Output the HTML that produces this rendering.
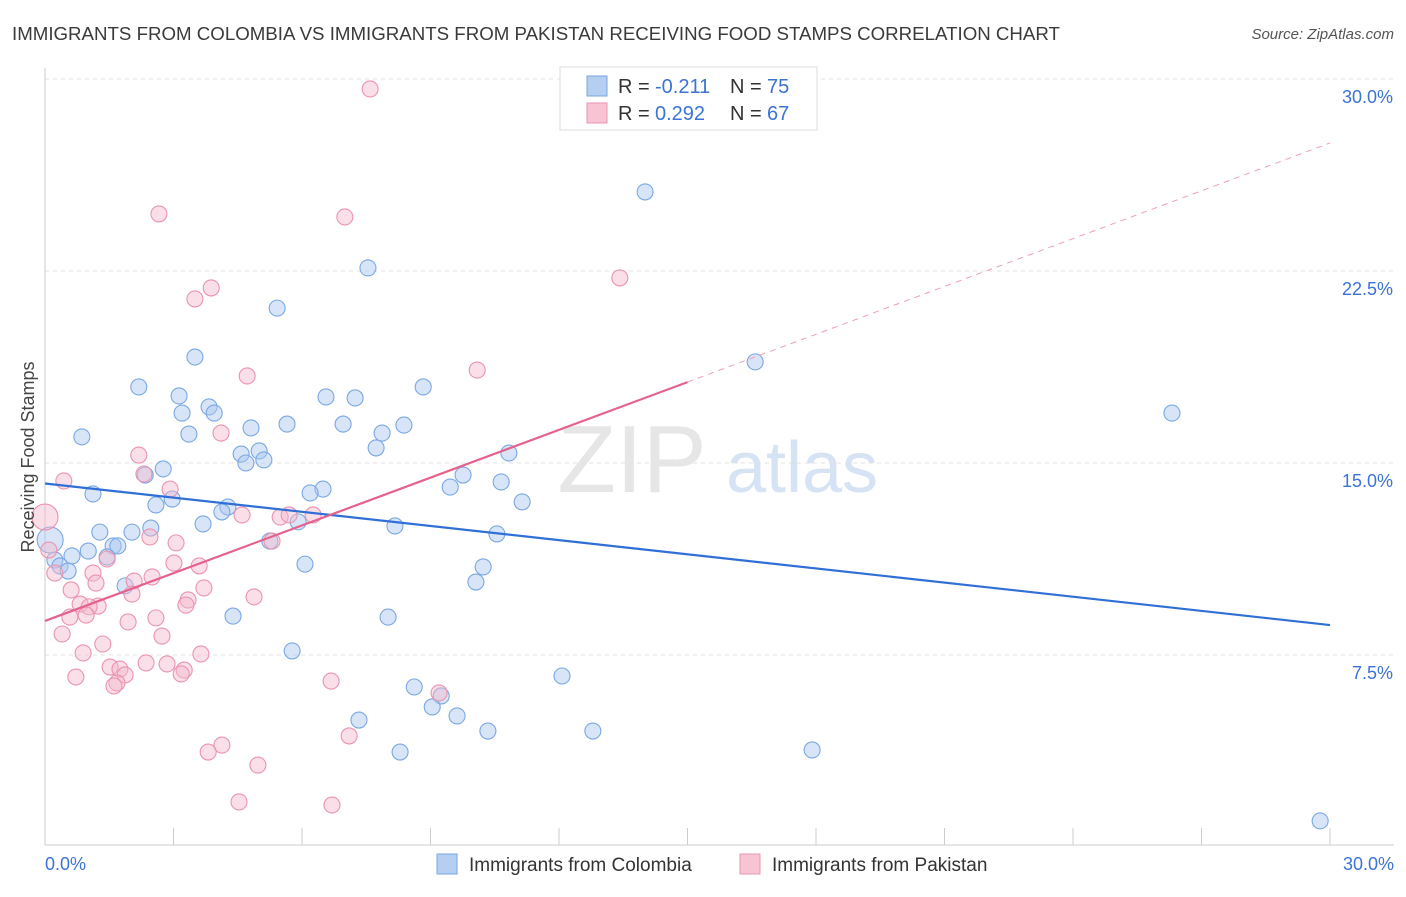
<!DOCTYPE html>
<html><head><meta charset="utf-8"><style>
body{margin:0;background:#fff;font-family:"Liberation Sans",sans-serif;}
svg text{font-family:"Liberation Sans",sans-serif;}
</style></head><body>
<svg id="chart" width="1406" height="892" viewBox="0 0 1406 892" xmlns="http://www.w3.org/2000/svg">
<text x="12" y="40" font-size="18.7" fill="#3a3a3a">IMMIGRANTS FROM COLOMBIA VS IMMIGRANTS FROM PAKISTAN RECEIVING FOOD STAMPS CORRELATION CHART</text>
<text x="1394" y="39" font-size="15" fill="#555" text-anchor="end" font-style="italic">Source: ZipAtlas.com</text>
<g><text x="632" y="492" font-size="96" fill="#e6e6e6" text-anchor="middle" font-family="Liberation Serif">ZIP</text><text x="802" y="492" font-size="72" fill="#d6e3f4" text-anchor="middle">atlas</text></g>
<g id="grid"></g>
<g id="axes"></g>
<g id="lines"></g>
<g id="points"></g>
<text transform="translate(34,457) rotate(-90)" font-size="18" fill="#444" text-anchor="middle">Receiving Food Stamps</text>
<g>
<rect x="560" y="67" width="257" height="63" fill="#fff" stroke="#ddd"/>
<rect x="587" y="76" width="20" height="20" fill="#b5cff3" stroke="#7aa6e0"/>
<rect x="587" y="103" width="20" height="20" fill="#f8c3d3" stroke="#e896b0"/>
<text x="618" y="93" font-size="20" fill="#333">R =</text>
<text x="655" y="93" font-size="20" fill="#3b73d6">-0.211</text>
<text x="730" y="93" font-size="20" fill="#333">N =</text>
<text x="767" y="93" font-size="20" fill="#3b73d6">75</text>
<text x="618" y="120" font-size="20" fill="#333">R =</text>
<text x="655" y="120" font-size="20" fill="#3b73d6">0.292</text>
<text x="730" y="120" font-size="20" fill="#333">N =</text>
<text x="767" y="120" font-size="20" fill="#3b73d6">67</text>
</g>
<g>
<rect x="437" y="854" width="20" height="20" fill="#b5cff3" stroke="#7aa6e0"/>
<text x="469" y="871" font-size="19" fill="#333">Immigrants from Colombia</text>
<rect x="740" y="854" width="20" height="20" fill="#f8c3d3" stroke="#e896b0"/>
<text x="772" y="871" font-size="19" fill="#333">Immigrants from Pakistan</text>
</g>
</svg>
<script>
const yTicks=[7.5,15,22.5,30];
const yTickLabels=["7.5%","15.0%","22.5%","30.0%"];
const xTickCount=10;
const blueX=[14.01,7.54,5.42,16.58,3.50,2.19,3.13,6.56,7.24,8.83,3.83,3.20,3.95,26.31,6.96,5.65,8.38,4.81,3.36,7.87,0.86,7.73,4.58,5.00,5.11,4.69,10.83,2.76,2.34,9.76,10.65,9.46,1.12,6.49,6.19,2.97,2.59,11.14,4.27,4.13,5.91,3.69,2.47,8.17,1.28,2.03,10.55,5.25,1.59,1.70,1.01,0.63,1.45,0.12,0.23,0.35,0.54,6.07,10.23,10.06,1.87,4.39,8.01,5.77,12.07,8.62,9.25,9.04,9.62,7.33,10.34,12.79,8.29,17.91,29.77];
const blueY=[25.59,22.62,21.05,18.95,19.14,17.97,17.62,17.58,17.54,17.97,17.19,16.95,16.95,16.95,16.52,16.52,16.48,16.37,16.13,16.17,16.02,15.59,15.35,15.47,15.12,15.0,15.39,14.77,14.53,14.53,14.26,14.06,13.79,13.98,13.83,13.59,13.36,13.48,13.28,13.09,12.70,12.62,12.46,12.54,12.30,12.30,12.23,11.95,11.76,11.76,11.56,11.37,11.33,11.99,11.21,10.98,10.78,11.05,10.94,10.35,10.20,9.02,8.98,7.66,6.68,6.25,5.90,5.47,5.12,4.96,4.53,4.53,3.71,3.79,1.02];
const pinkX=[7.59,2.66,7.00,13.42,3.88,3.50,10.09,4.72,4.11,2.19,2.31,0.44,2.92,0,4.60,5.49,5.70,6.26,2.45,3.06,5.30,0.09,1.45,3.01,3.60,0.23,1.12,2.50,2.08,1.19,3.71,0.61,2.03,4.88,3.34,0.82,1.24,1.03,3.29,0.58,2.59,1.94,0.96,2.73,0.40,1.35,0.89,3.64,2.36,2.85,1.52,1.75,3.25,3.18,1.87,0.72,1.68,1.61,6.68,9.20,7.10,4.13,3.81,4.97,4.53,6.70];
const pinkY=[29.61,24.73,24.61,22.23,21.84,21.41,18.63,18.40,16.17,15.31,14.57,14.30,13.98,12.89,12.97,12.89,12.97,12.97,12.11,11.88,11.95,11.60,11.25,11.09,10.98,10.70,10.70,10.55,10.39,10.31,10.12,10.04,9.88,9.77,9.65,9.49,9.41,9.38,9.45,8.98,8.95,8.79,9.06,8.24,8.32,7.93,7.58,7.54,7.19,7.15,7.03,6.95,6.91,6.76,6.72,6.64,6.41,6.29,6.48,6.02,4.34,3.98,3.71,3.20,1.76,1.64];
const bigBlue=[53];const bigPink=[13];
const blueTrend=[[0,14.2],[30,8.67]];
const pinkTrend=[[0,8.83],[15,18.16]];
const pinkDash=[[15,18.16],[30,27.5]];
const X0=45,X1=1330,YB=847,PXY=25.6;
const sx=v=>X0+v*(X1-X0)/30, sy=v=>YB-v*PXY;
const NS="http://www.w3.org/2000/svg";
function mk(parent,tag,attrs){const e=document.createElementNS(NS,tag);for(const k in attrs)e.setAttribute(k,attrs[k]);document.getElementById(parent).appendChild(e);return e;}
yTicks.forEach((t,i)=>{
 const g=mk('grid','line',{x1:X0,x2:1394,y1:sy(t),y2:sy(t),stroke:'#e2e2e2','stroke-dasharray':'4,4'});
 
 
 const l=mk('axes','text',{x:1393,y:sy(t)+24,'font-size':18,fill:'#3b73d6','text-anchor':'end'});
 l.textContent=yTickLabels[i];
 
 
});
const ax=mk('axes','line',{x1:X0,x2:X0,y1:68,y2:845,stroke:'#ccc'});


const bx=mk('axes','line',{x1:X0,x2:1394,y1:845,y2:845,stroke:'#ccc'});


for(let i=0;i<=xTickCount;i++){const t=mk('axes','line',{x1:sx(i*3),x2:sx(i*3),y1:828,y2:845,stroke:'#ccc'});
 
 }
[["0.0%",45,'start'],["30.0%",1394,'end']].forEach(a=>{const t=mk('axes','text',{x:a[1],y:870,'font-size':18,fill:'#3b73d6','text-anchor':a[2]});t.textContent=a[0];
 
 });
function pts(xs,ys,big,fill,stroke,name){xs.forEach((x,i)=>{const c=mk('points','circle',{cx:sx(x),cy:sy(ys[i]),r:big.includes(i)?13:8,fill:fill,'fill-opacity':0.45,stroke:stroke,'stroke-width':1.1});
 
 });}
pts(blueX,blueY,bigBlue,'#a9c6ef','#7aa8e3','colombia-point');
pts(pinkX,pinkY,bigPink,'#f5b8cb','#eb93b0','pakistan-point');
function ln(p,col,dash,name){const l=mk('lines','line',{x1:sx(p[0][0]),y1:sy(p[0][1]),x2:sx(p[1][0]),y2:sy(p[1][1]),stroke:col,'stroke-width':dash?1:2.2});if(dash)l.setAttribute('stroke-dasharray','6,5');
 
 }
ln(blueTrend,'#2f6fd6',false,'colombia-trend-line');
ln(pinkTrend,'#e5628e',false,'pakistan-trend-line');
ln(pinkDash,'#eea0b8',true,'pakistan-trend-extension');
document.getElementById('chart').appendChild(document.getElementById('lines'));
</script>
</body></html>
